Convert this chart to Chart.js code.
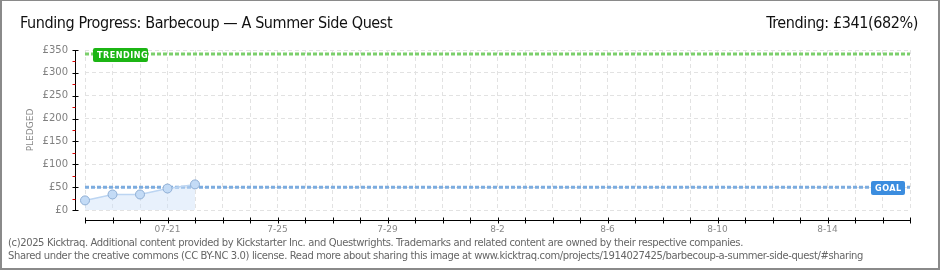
<!DOCTYPE html>
<html>
<head>
<meta charset="utf-8">
<script src="https://cdn.jsdelivr.net/npm/chart.js"></script>
<style>
body { margin: 0; background: #fff; }
#wrap { position: absolute; left: 0; top: 0; width: 940px; height: 270px; }
#frame { position: absolute; left: 0; top: 0; width: 940px; height: 270px; box-sizing: border-box;
  border: 2px solid #8a8a8a; border-top-width: 1px; pointer-events: none; }
.head { position: absolute; top: 13px; font-family: "Liberation Sans Narrow", "DejaVu Sans Condensed", sans-serif;
  font-size: 16px; color: #111; white-space: nowrap; letter-spacing: -0.4px; }
#title { left: 20px; }
#trend { right: 22px; }
.foot { position: absolute; left: 8px; font-family: "DejaVu Sans", sans-serif; font-size: 10px; color: #666;
  white-space: nowrap; letter-spacing: -0.38px; }
</style>
</head>
<body>
<div id="wrap"><canvas id="chart" width="940" height="270"></canvas></div>
<div class="head" id="title">Funding Progress: Barbecoup — A Summer Side Quest</div>
<div class="head" id="trend">Trending: £341(682%)</div>
<div class="foot" style="top:237px">(c)2025 Kicktraq. Additional content provided by Kickstarter Inc. and Questwrights. Trademarks and related content are owned by their respective companies.</div>
<div class="foot" style="top:250px">Shared under the creative commons (CC BY-NC 3.0) license. Read more about sharing this image at www.kicktraq.com/projects/1914027425/barbecoup-a-summer-side-quest/#sharing</div>
<div id="frame"></div>

<script>
// days from 07-18 to 08-17, only every 4th gets a label
let days = ['07-18','07-19','07-20','07-21','07-22','07-23','07-24','07-25','07-26','07-27','07-28',
  '07-29','07-30','07-31','08-01','08-02','08-03','08-04','08-05','08-06','08-07','08-08','08-09',
  '08-10','08-11','08-12','08-13','08-14','08-15','08-16','08-17'];
let dayTickLabels = ['','','','07-21','','','','7-25','','','','7-29','','','','8-2','','','','8-6',
  '','','','8-10','','','','8-14','','',''];
let pledged = [21, 34, 34, 47, 56];
let goal = 50;
let trending = 341;
let yTicks = [0, 50, 100, 150, 200, 250, 300, 350];

let pledgedData = days.map((d, i) => i < pledged.length ? pledged[i] : null);
let goalLine = days.map(() => goal);
let trendLine = days.map(() => trending);

const axisPlugin = {
  id: 'axisPlugin',
  afterDatasetsDraw(chart) {
    const ctx = chart.ctx;
    const a = chart.chartArea;
    const xs = chart.scales.x, ys = chart.scales.y;
    ctx.save();
    // y axis line
    ctx.strokeStyle = '#000';
    ctx.lineWidth = 1;
    let ax = a.left - 9.5;
    ctx.beginPath(); ctx.moveTo(ax, a.top); ctx.lineTo(ax, a.bottom + 1); ctx.stroke();
    for (let v = 0; v <= 350; v += 25) {
      let y = Math.round(ys.getPixelForValue(v)) + 0.5;
      ctx.strokeStyle = v % 50 === 0 ? '#000' : '#e00000';
      ctx.beginPath();
      if (v % 50 === 0) { ctx.moveTo(ax - 3, y); ctx.lineTo(ax + 3, y); }
      else { ctx.moveTo(ax - 3, y); ctx.lineTo(ax, y); }
      ctx.stroke();
    }
    // x axis line
    let ay = a.bottom + 10.5;
    ctx.strokeStyle = '#000';
    ctx.beginPath(); ctx.moveTo(a.left, ay); ctx.lineTo(a.right + 1, ay); ctx.stroke();
    for (let i = 0; i < days.length; i++) {
      let x = Math.round(xs.getPixelForValue(i)) + 0.5;
      ctx.beginPath(); ctx.moveTo(x, ay - 3); ctx.lineTo(x, ay + 3); ctx.stroke();
    }
    // tags
    function tag(text, color, x, y, w) {
      ctx.fillStyle = color;
      ctx.beginPath();
      ctx.roundRect(x, y - 6, w, 14, 2);
      ctx.fill();
      ctx.fillStyle = '#fff';
      ctx.font = 'bold 9px "DejaVu Sans Condensed", "DejaVu Sans", sans-serif';
      ctx.textBaseline = 'middle';
      ctx.textAlign = 'left';
      ctx.letterSpacing = '0.5px';
      ctx.fillText(text, x + 4, y + 1.5);
    }
    tag('TRENDING', '#1cb514', a.left + 8, Math.round(ys.getPixelForValue(trending)), 55);
    tag('GOAL', '#3b8ddf', a.right - 39, Math.round(ys.getPixelForValue(goal)), 34);
    ctx.restore();
  }
};

new Chart(document.getElementById('chart'), {
  type: 'line',
  data: {
    labels: days,
    datasets: [
      {
        label: 'Pledged',
        data: pledgedData,
        borderColor: '#bcd5f2',
        borderWidth: 1.5,
        backgroundColor: 'rgba(205,225,248,0.45)',
        fill: 'origin',
        pointRadius: 4.5,
        pointBackgroundColor: '#c3dbf6',
        pointBorderColor: '#8eaed4',
        pointBorderWidth: 1,
        tension: 0
      },
      {
        label: 'Goal',
        data: goalLine,
        borderColor: '#7cacdf',
        borderWidth: 3,
        borderDash: [4, 2],
        pointRadius: 0,
        fill: false
      },
      {
        label: 'Trending',
        data: trendLine,
        borderColor: '#7ccf6c',
        borderWidth: 3,
        borderDash: [4, 2],
        pointRadius: 0,
        fill: false
      }
    ]
  },
  options: {
    responsive: false,
    animation: false,
    layout: { padding: { top: 50, right: 30, left: 0, bottom: 0 } },
    plugins: { legend: { display: false }, tooltip: { enabled: false } },
    scales: {
      x: {
        type: 'category',
        offset: false,
        afterFit: (s) => { s.height = 60; },
        grid: { color: '#e2e2e2', drawTicks: false },
        border: { display: false, dash: [4, 3] },
        ticks: {
          autoSkip: false,
          maxRotation: 0,
          padding: 14,
          color: '#888',
          font: { family: '"DejaVu Sans", sans-serif', size: 9 },
          callback: (v, i) => dayTickLabels[i]
        }
      },
      y: {
        min: 0,
        max: 350,
        afterFit: (s) => { s.width = 85; },
        afterBuildTicks: (s) => { s.ticks = yTicks.map(v => ({ value: v })); },
        grid: { color: '#e2e2e2', drawTicks: false },
        border: { display: false, dash: [4, 3] },
        title: {
          display: true,
          text: 'PLEDGED',
          color: '#888',
          padding: { top: 25, bottom: 0 },
          font: { family: '"DejaVu Sans", sans-serif', size: 9 }
        },
        ticks: {
          padding: 17,
          color: '#808080',
          font: { family: '"DejaVu Sans", sans-serif', size: 10 },
          callback: (v) => '£' + v
        }
      }
    }
  },
  plugins: [axisPlugin]
});
</script>
</body>
</html>
